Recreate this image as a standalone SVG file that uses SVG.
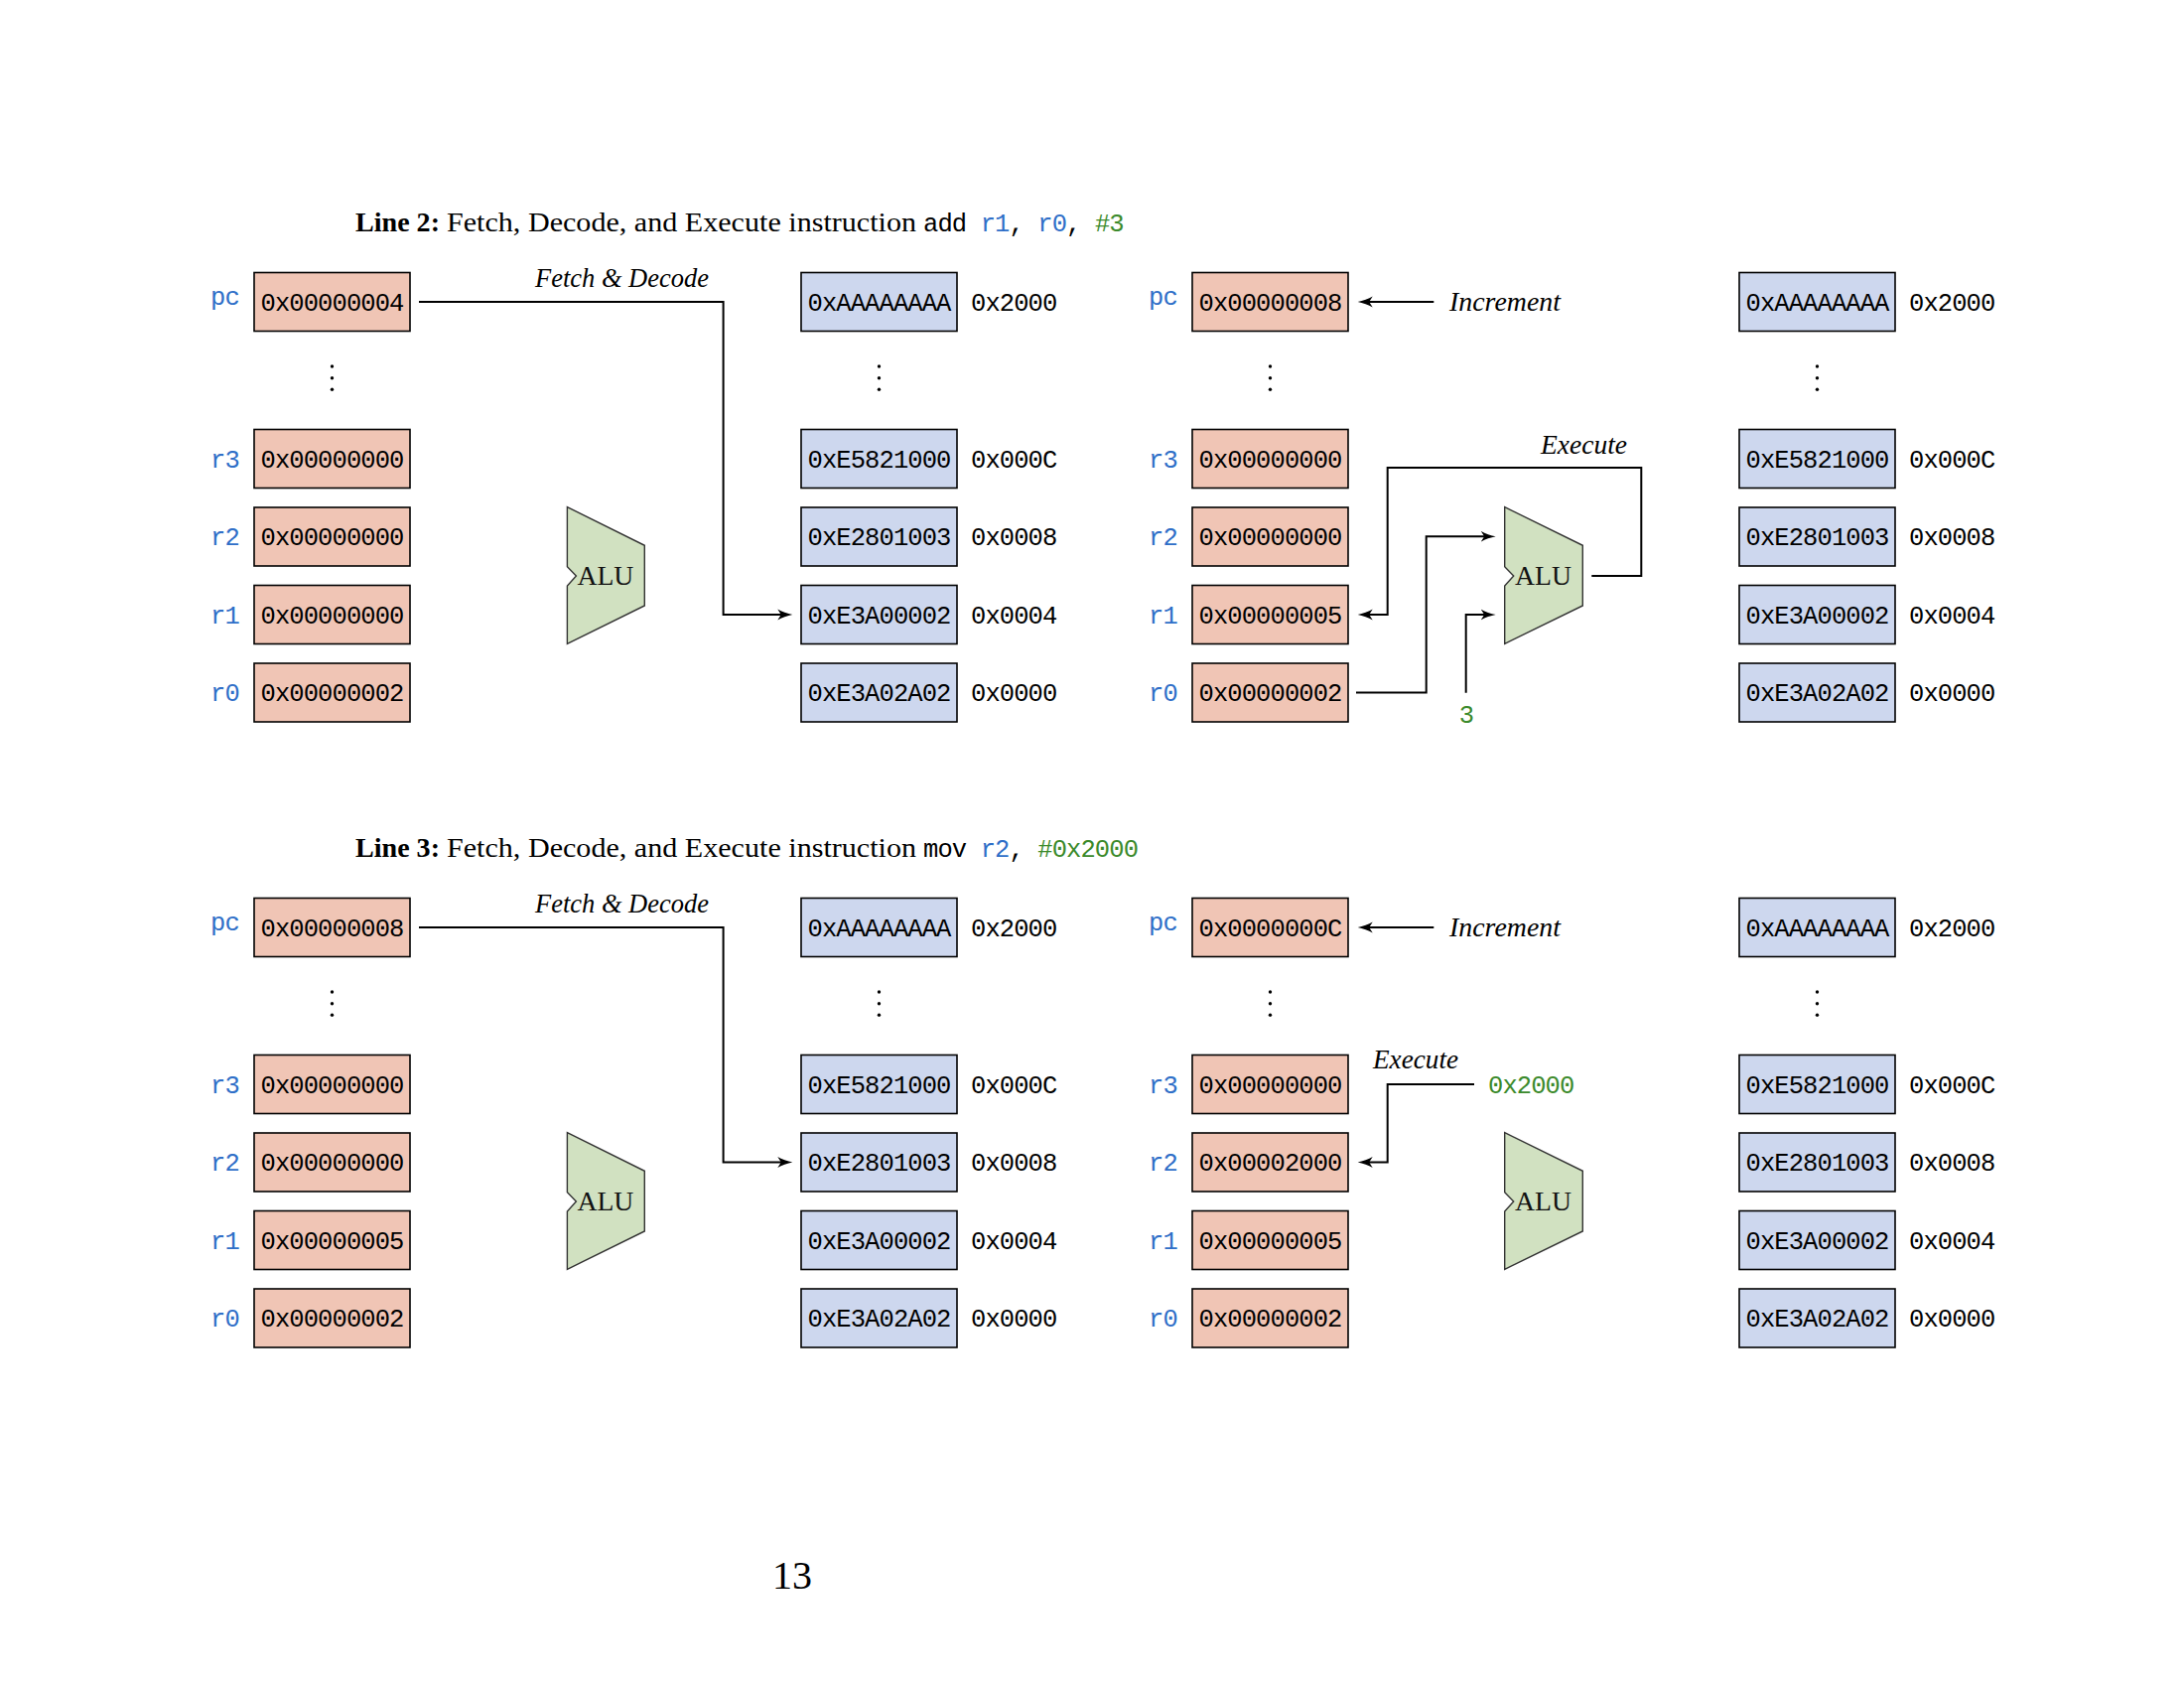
<svg xmlns="http://www.w3.org/2000/svg" width="2200" height="1700" viewBox="0 0 2200 1700">
<style>
.reg{fill:#f0c5b5;stroke:#000;stroke-width:1.6}
.mem{fill:#cdd7ee;stroke:#000;stroke-width:1.6}
.alu{fill:#d1e1c1;stroke:#333;stroke-width:1.4}
.tt{font-family:"Liberation Mono","DejaVu Sans Mono",monospace;font-size:25.5px;letter-spacing:-0.9px;fill:#000}
.cv{text-anchor:middle}
.lbl{fill:#2f6fc8}
.grn{fill:#3b8a2b}
.rm{font-family:"Liberation Serif","DejaVu Serif",serif;font-size:27px;fill:#000}
.bf{font-weight:bold}
.it{font-style:italic}
.alut{font-family:"Liberation Serif","DejaVu Serif",serif;font-size:28px;fill:#111}
.dot{fill:#000}
.wire{fill:none;stroke:#000;stroke-width:2}
</style>
<defs>
<marker id="ah" viewBox="0 -6 16 12" markerWidth="16" markerHeight="12" refX="4" refY="0" markerUnits="userSpaceOnUse" orient="auto">
<path d="M15,0 C10,-1 4,-3 0,-5.5 L3.5,0 L0,5.5 C4,3 10,1 15,0 Z" fill="#000"/>
</marker>
<g id="dots"><circle cx="0" cy="369" r="1.7"/><circle cx="0" cy="380.7" r="1.7"/><circle cx="0" cy="392.3" r="1.7"/></g>
</defs>
<rect width="2200" height="1700" fill="#fff"/>

<!-- Titles -->
<g id="title2">
<text class="rm bf" x="358" y="233.3" textLength="85" lengthAdjust="spacingAndGlyphs">Line 2:</text>
<text class="rm" x="450" y="233.3" textLength="473" lengthAdjust="spacingAndGlyphs">Fetch, Decode, and Execute instruction</text>
<text class="tt" x="930" y="233.3">add <tspan class="lbl">r1</tspan>, <tspan class="lbl">r0</tspan>, <tspan class="grn">#3</tspan></text>
</g>
<g id="title3">
<text class="rm bf" x="358" y="863.3" textLength="85" lengthAdjust="spacingAndGlyphs">Line 3:</text>
<text class="rm" x="450" y="863.3" textLength="473" lengthAdjust="spacingAndGlyphs">Fetch, Decode, and Execute instruction</text>
<text class="tt" x="930" y="863.3">mov <tspan class="lbl">r2</tspan>, <tspan class="grn">#0x2000</tspan></text>
</g>

<!-- Panel A: upper left -->
<g id="A-regs">
<g id="A-pc"><text class="tt lbl" x="212" y="306.5">pc</text><rect class="reg" x="256" y="274.5" width="157" height="59"/><text class="tt cv" x="334.5" y="312.5">0x00000004</text></g>
<use href="#dots" x="334.5" y="0" class="dot"/>
<g id="A-r3"><text class="tt lbl" x="212" y="470.5">r3</text><rect class="reg" x="256" y="432.5" width="157" height="59"/><text class="tt cv" x="334.5" y="470.5">0x00000000</text></g>
<g id="A-r2"><text class="tt lbl" x="212" y="549">r2</text><rect class="reg" x="256" y="511" width="157" height="59"/><text class="tt cv" x="334.5" y="549">0x00000000</text></g>
<g id="A-r1"><text class="tt lbl" x="212" y="627.5">r1</text><rect class="reg" x="256" y="589.5" width="157" height="59"/><text class="tt cv" x="334.5" y="627.5">0x00000000</text></g>
<g id="A-r0"><text class="tt lbl" x="212" y="706">r0</text><rect class="reg" x="256" y="668" width="157" height="59"/><text class="tt cv" x="334.5" y="706">0x00000002</text></g>
</g>
<g id="A-alu"><polygon class="alu" points="571.4,510.7 649.3,549.3 649.3,610 571.4,648.3 571.4,590 580.4,580 571.4,570.7"/><text class="alut" x="581.4" y="589.3" textLength="57" lengthAdjust="spacingAndGlyphs">ALU</text></g>
<g id="A-mem">
<g id="A-m2000"><rect class="mem" x="807" y="274.5" width="157" height="59"/><text class="tt cv" x="885.5" y="312.5">0xAAAAAAAA</text><text class="tt" x="978" y="312.5">0x2000</text></g>
<use href="#dots" x="885.5" y="0" class="dot"/>
<g id="A-m000C"><rect class="mem" x="807" y="432.5" width="157" height="59"/><text class="tt cv" x="885.5" y="470.5">0xE5821000</text><text class="tt" x="978" y="470.5">0x000C</text></g>
<g id="A-m0008"><rect class="mem" x="807" y="511" width="157" height="59"/><text class="tt cv" x="885.5" y="549">0xE2801003</text><text class="tt" x="978" y="549">0x0008</text></g>
<g id="A-m0004"><rect class="mem" x="807" y="589.5" width="157" height="59"/><text class="tt cv" x="885.5" y="627.5">0xE3A00002</text><text class="tt" x="978" y="627.5">0x0004</text></g>
<g id="A-m0000"><rect class="mem" x="807" y="668" width="157" height="59"/><text class="tt cv" x="885.5" y="706">0xE3A02A02</text><text class="tt" x="978" y="706">0x0000</text></g>
</g>

<!-- Panel B: upper right -->
<g id="B-regs">
<g id="B-pc"><text class="tt lbl" x="1157" y="306.5">pc</text><rect class="reg" x="1201" y="274.5" width="157" height="59"/><text class="tt cv" x="1279.5" y="312.5">0x00000008</text></g>
<use href="#dots" x="1279.5" y="0" class="dot"/>
<g id="B-r3"><text class="tt lbl" x="1157" y="470.5">r3</text><rect class="reg" x="1201" y="432.5" width="157" height="59"/><text class="tt cv" x="1279.5" y="470.5">0x00000000</text></g>
<g id="B-r2"><text class="tt lbl" x="1157" y="549">r2</text><rect class="reg" x="1201" y="511" width="157" height="59"/><text class="tt cv" x="1279.5" y="549">0x00000000</text></g>
<g id="B-r1"><text class="tt lbl" x="1157" y="627.5">r1</text><rect class="reg" x="1201" y="589.5" width="157" height="59"/><text class="tt cv" x="1279.5" y="627.5">0x00000005</text></g>
<g id="B-r0"><text class="tt lbl" x="1157" y="706">r0</text><rect class="reg" x="1201" y="668" width="157" height="59"/><text class="tt cv" x="1279.5" y="706">0x00000002</text></g>
</g>
<g id="B-alu"><polygon class="alu" points="1515.7,510.7 1594.3,549.3 1594.3,610 1515.7,648.3 1515.7,590 1524.7,580 1515.7,570.7"/><text class="alut" x="1526" y="589.3" textLength="57" lengthAdjust="spacingAndGlyphs">ALU</text></g>
<g id="B-imm"><text class="tt grn cv" x="1477" y="728.3">3</text></g>
<g id="B-mem">
<g id="B-m2000"><rect class="mem" x="1752" y="274.5" width="157" height="59"/><text class="tt cv" x="1830.5" y="312.5">0xAAAAAAAA</text><text class="tt" x="1923" y="312.5">0x2000</text></g>
<use href="#dots" x="1830.5" y="0" class="dot"/>
<g id="B-m000C"><rect class="mem" x="1752" y="432.5" width="157" height="59"/><text class="tt cv" x="1830.5" y="470.5">0xE5821000</text><text class="tt" x="1923" y="470.5">0x000C</text></g>
<g id="B-m0008"><rect class="mem" x="1752" y="511" width="157" height="59"/><text class="tt cv" x="1830.5" y="549">0xE2801003</text><text class="tt" x="1923" y="549">0x0008</text></g>
<g id="B-m0004"><rect class="mem" x="1752" y="589.5" width="157" height="59"/><text class="tt cv" x="1830.5" y="627.5">0xE3A00002</text><text class="tt" x="1923" y="627.5">0x0004</text></g>
<g id="B-m0000"><rect class="mem" x="1752" y="668" width="157" height="59"/><text class="tt cv" x="1830.5" y="706">0xE3A02A02</text><text class="tt" x="1923" y="706">0x0000</text></g>
</g>

<!-- Panel C: lower left -->
<g id="C-regs">
<g id="C-pc"><text class="tt lbl" x="212" y="936.5">pc</text><rect class="reg" x="256" y="904.5" width="157" height="59"/><text class="tt cv" x="334.5" y="942.5">0x00000008</text></g>
<use href="#dots" x="334.5" y="630" class="dot"/>
<g id="C-r3"><text class="tt lbl" x="212" y="1100.5">r3</text><rect class="reg" x="256" y="1062.5" width="157" height="59"/><text class="tt cv" x="334.5" y="1100.5">0x00000000</text></g>
<g id="C-r2"><text class="tt lbl" x="212" y="1179">r2</text><rect class="reg" x="256" y="1141" width="157" height="59"/><text class="tt cv" x="334.5" y="1179">0x00000000</text></g>
<g id="C-r1"><text class="tt lbl" x="212" y="1257.5">r1</text><rect class="reg" x="256" y="1219.5" width="157" height="59"/><text class="tt cv" x="334.5" y="1257.5">0x00000005</text></g>
<g id="C-r0"><text class="tt lbl" x="212" y="1336">r0</text><rect class="reg" x="256" y="1298" width="157" height="59"/><text class="tt cv" x="334.5" y="1336">0x00000002</text></g>
</g>
<g id="C-alu"><polygon class="alu" points="571.4,1140.7 649.3,1179.3 649.3,1240 571.4,1278.3 571.4,1220 580.4,1210 571.4,1200.7"/><text class="alut" x="581.4" y="1219.3" textLength="57" lengthAdjust="spacingAndGlyphs">ALU</text></g>
<g id="C-mem">
<g id="C-m2000"><rect class="mem" x="807" y="904.5" width="157" height="59"/><text class="tt cv" x="885.5" y="942.5">0xAAAAAAAA</text><text class="tt" x="978" y="942.5">0x2000</text></g>
<use href="#dots" x="885.5" y="630" class="dot"/>
<g id="C-m000C"><rect class="mem" x="807" y="1062.5" width="157" height="59"/><text class="tt cv" x="885.5" y="1100.5">0xE5821000</text><text class="tt" x="978" y="1100.5">0x000C</text></g>
<g id="C-m0008"><rect class="mem" x="807" y="1141" width="157" height="59"/><text class="tt cv" x="885.5" y="1179">0xE2801003</text><text class="tt" x="978" y="1179">0x0008</text></g>
<g id="C-m0004"><rect class="mem" x="807" y="1219.5" width="157" height="59"/><text class="tt cv" x="885.5" y="1257.5">0xE3A00002</text><text class="tt" x="978" y="1257.5">0x0004</text></g>
<g id="C-m0000"><rect class="mem" x="807" y="1298" width="157" height="59"/><text class="tt cv" x="885.5" y="1336">0xE3A02A02</text><text class="tt" x="978" y="1336">0x0000</text></g>
</g>

<!-- Panel D: lower right -->
<g id="D-regs">
<g id="D-pc"><text class="tt lbl" x="1157" y="936.5">pc</text><rect class="reg" x="1201" y="904.5" width="157" height="59"/><text class="tt cv" x="1279.5" y="942.5">0x0000000C</text></g>
<use href="#dots" x="1279.5" y="630" class="dot"/>
<g id="D-r3"><text class="tt lbl" x="1157" y="1100.5">r3</text><rect class="reg" x="1201" y="1062.5" width="157" height="59"/><text class="tt cv" x="1279.5" y="1100.5">0x00000000</text></g>
<g id="D-r2"><text class="tt lbl" x="1157" y="1179">r2</text><rect class="reg" x="1201" y="1141" width="157" height="59"/><text class="tt cv" x="1279.5" y="1179">0x00002000</text></g>
<g id="D-r1"><text class="tt lbl" x="1157" y="1257.5">r1</text><rect class="reg" x="1201" y="1219.5" width="157" height="59"/><text class="tt cv" x="1279.5" y="1257.5">0x00000005</text></g>
<g id="D-r0"><text class="tt lbl" x="1157" y="1336">r0</text><rect class="reg" x="1201" y="1298" width="157" height="59"/><text class="tt cv" x="1279.5" y="1336">0x00000002</text></g>
</g>
<g id="D-alu"><polygon class="alu" points="1515.7,1140.7 1594.3,1179.3 1594.3,1240 1515.7,1278.3 1515.7,1220 1524.7,1210 1515.7,1200.7"/><text class="alut" x="1526" y="1219.3" textLength="57" lengthAdjust="spacingAndGlyphs">ALU</text></g>
<g id="D-imm"><text class="tt grn" x="1499" y="1100.5">0x2000</text></g>
<g id="D-mem">
<g id="D-m2000"><rect class="mem" x="1752" y="904.5" width="157" height="59"/><text class="tt cv" x="1830.5" y="942.5">0xAAAAAAAA</text><text class="tt" x="1923" y="942.5">0x2000</text></g>
<use href="#dots" x="1830.5" y="630" class="dot"/>
<g id="D-m000C"><rect class="mem" x="1752" y="1062.5" width="157" height="59"/><text class="tt cv" x="1830.5" y="1100.5">0xE5821000</text><text class="tt" x="1923" y="1100.5">0x000C</text></g>
<g id="D-m0008"><rect class="mem" x="1752" y="1141" width="157" height="59"/><text class="tt cv" x="1830.5" y="1179">0xE2801003</text><text class="tt" x="1923" y="1179">0x0008</text></g>
<g id="D-m0004"><rect class="mem" x="1752" y="1219.5" width="157" height="59"/><text class="tt cv" x="1830.5" y="1257.5">0xE3A00002</text><text class="tt" x="1923" y="1257.5">0x0004</text></g>
<g id="D-m0000"><rect class="mem" x="1752" y="1298" width="157" height="59"/><text class="tt cv" x="1830.5" y="1336">0xE3A02A02</text><text class="tt" x="1923" y="1336">0x0000</text></g>
</g>

<!-- Connectors -->
<g id="connectors" class="wire">
<path class="wire" d="M422,304 H728.6 V619 H787.3" marker-end="url(#ah)"/>
<path class="wire" d="M1444.3,304 H1378.7" marker-end="url(#ah)"/>
<path class="wire" d="M1603.3,580 H1653.3 V471 H1397.7 V619 H1378.7" marker-end="url(#ah)"/>
<path class="wire" d="M1366,697.5 H1436.7 V540.3 H1495.7" marker-end="url(#ah)"/>
<path class="wire" d="M1476.7,697.7 V619 H1495.7" marker-end="url(#ah)"/>
<path class="wire" d="M422,934 H728.6 V1170.5 H787.3" marker-end="url(#ah)"/>
<path class="wire" d="M1444.3,934 H1378.7" marker-end="url(#ah)"/>
<path class="wire" d="M1485,1092 H1397.7 V1170.5 H1378.7" marker-end="url(#ah)"/>
</g>
<g id="connector-labels">
<text class="rm it" x="539" y="289" textLength="175" lengthAdjust="spacingAndGlyphs">Fetch &amp; Decode</text>
<text class="rm it" x="1460" y="313.3" textLength="112" lengthAdjust="spacingAndGlyphs">Increment</text>
<text class="rm it" x="1552" y="456.7" textLength="87" lengthAdjust="spacingAndGlyphs">Execute</text>
<text class="rm it" x="539" y="919" textLength="175" lengthAdjust="spacingAndGlyphs">Fetch &amp; Decode</text>
<text class="rm it" x="1460" y="943.3" textLength="112" lengthAdjust="spacingAndGlyphs">Increment</text>
<text class="rm it" x="1383" y="1076" textLength="86" lengthAdjust="spacingAndGlyphs">Execute</text>
</g>

<text id="page" class="rm" x="798" y="1600" style="font-size:40px;text-anchor:middle">13</text>
</svg>
